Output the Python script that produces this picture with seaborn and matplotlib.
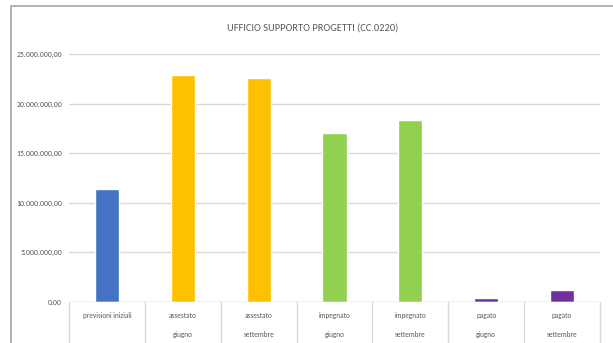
import matplotlib
matplotlib.use("Agg")
import matplotlib.pyplot as plt
import seaborn as sns
import pandas as pd
from matplotlib.patches import Rectangle

# data
categorie = ["previsioni iniziali", "assestato\ngiugno", "assestato\nsettembre",
             "impegnato\ngiugno", "impegnato\nsettembre", "pagato\ngiugno", "pagato\nsettembre"]
valori = [11400000, 22900000, 22550000, 17050000, 18350000, 400000, 1200000]
colori = ["#4472C4", "#FFC000", "#FFC000", "#92D050", "#92D050", "#7030A0", "#7030A0"]
yticks = [0, 5000000, 10000000, 15000000, 20000000, 25000000]
ytick_labels = ["0,00", "5.000.000,00", "10.000.000,00", "15.000.000,00",
                "20.000.000,00", "25.000.000,00"]

df = pd.DataFrame({"voce": categorie, "importo": valori})

sns.set_style("white")
plt.rcParams["font.family"] = ["Carlito", "Liberation Sans", "DejaVu Sans"]

W, H = 613, 343
fig = plt.figure(figsize=(W / 100, H / 100), dpi=100)
fig.patch.set_facecolor("white")

# chart frame (Excel style)
fig.patches.append(Rectangle((11 / W, -0.1), 1.0, (H - 6) / H + 0.1, transform=fig.transFigure,
                             fill=False, edgecolor="#a6a6a6", lw=1.2))

ax = fig.add_axes([69 / W, (H - 302) / H, 531 / W, (302 - 54) / H])
sns.barplot(data=df, x="voce", y="importo", hue="voce", palette=colori,
            width=0.32, legend=False, ax=ax, saturation=1)

ax.set_ylim(0, 25000000)
ax.set_xlim(-0.5, len(categorie) - 0.5)
ax.set_yticks(yticks)
ax.set_yticklabels(ytick_labels, fontsize=5.6, color="#595959")
ax.yaxis.grid(True, color="#d9d9d9", lw=1)
ax.set_axisbelow(True)
for s in ax.spines.values():
    s.set_visible(False)
ax.tick_params(axis="both", length=0)
ax.tick_params(axis="y", pad=5)
ax.set_xlabel("")
ax.set_ylabel("")

ax.set_xticks(range(len(categorie)))
ax.set_xticklabels(categorie, fontsize=5.2, color="#595959", linespacing=3.1)
ax.tick_params(axis="x", pad=7)

# category box lines under the axis
for b in [i - 0.5 for i in range(len(categorie) + 1)]:
    ax.plot([b, b], [0, -0.2], transform=ax.get_xaxis_transform(),
            color="#d9d9d9", lw=1, clip_on=False)
ax.axhline(0, color="#d9d9d9", lw=1)

fig.text(313 / W, 1 - 28 / H, "UFFICIO SUPPORTO PROGETTI (CC.0220)",
         ha="center", va="center", fontsize=7.5, color="#595959")

fig.savefig("out.png", dpi=100)
